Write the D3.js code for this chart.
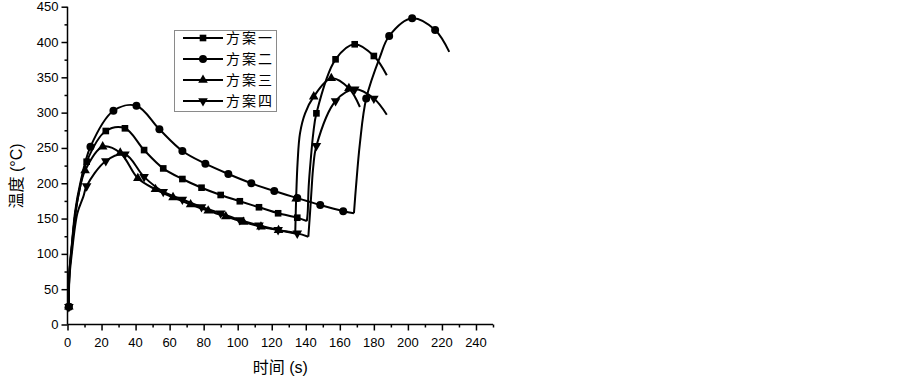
<!DOCTYPE html>
<html>
<head>
<meta charset="utf-8">
<script src="https://cdn.jsdelivr.net/npm/d3@7"></script>
<style>
  body { margin: 0; background: #fff; }
  text { font-family: "Liberation Sans", "Noto Sans CJK SC", sans-serif; fill: #000; }
</style>
</head>
<body>
<div id="chart"></div>
<script>
// series names shown in the legend
const seriesNames = ["方案一", "方案二", "方案三", "方案四"];

// time (s), temperature (°C), and 1 where a marker is drawn
const s1Time = [0.8, 1.1, 2.5, 4.5, 7, 11.25, 22.5, 33.75, 45, 56.25, 67.5, 78.75, 90, 101.25, 112.5, 123.75, 135, 140.6, 141.1, 141.7, 142.9, 144.4, 146.25, 157.5, 168.75, 180, 187.6];
const s1Temp = [25, 72, 110, 155, 190, 230.5, 274, 277.8, 247, 221, 206, 193.7, 183.4, 174.5, 166, 157.5, 151.2, 146.5, 157.5, 195, 233, 270.7, 299, 375.5, 396.8, 380.2, 353];
const s1Mark = [1, 0, 0, 0, 0, 1, 1, 1, 1, 1, 1, 1, 1, 1, 1, 1, 1, 0, 0, 0, 0, 0, 1, 1, 1, 1, 0];

const s2Time = [0.8, 1.1, 2.5, 4.5, 7.5, 13.5, 27, 40.5, 54, 67.5, 81, 94.5, 108, 121.5, 135, 148.5, 162, 168.3, 169.5, 171.8, 175.5, 183.6, 189, 202.5, 216, 224.3];
const s2Temp = [25, 74, 112, 160, 200, 251.8, 302.7, 309.8, 276.4, 245.7, 227.7, 213.1, 200, 189, 179, 169.2, 160.5, 157.5, 195, 256.6, 320, 379, 408.5, 433.6, 417, 386];
const s2Mark = [1, 0, 0, 0, 0, 1, 1, 1, 1, 1, 1, 1, 1, 1, 1, 1, 1, 0, 0, 0, 1, 0, 1, 1, 1, 0];

const s3Time = [0.8, 1.1, 2.5, 4.5, 7, 10.33, 20.67, 31, 41.33, 51.67, 62, 72.33, 82.67, 93, 103.33, 113.67, 124, 133.8, 134.33, 135.2, 136.6, 139.6, 144.67, 155, 165.33, 171.8];
const s3Temp = [25, 72, 108, 155, 190, 218, 251.8, 243, 207, 191.4, 180, 170, 161, 153, 145, 138.5, 133.5, 129, 178, 230, 270.7, 299, 322.6, 348.6, 334.5, 308];
const s3Mark = [1, 0, 0, 0, 0, 1, 1, 1, 1, 1, 1, 1, 1, 1, 1, 1, 1, 0, 1, 0, 0, 0, 1, 1, 1, 0];

const s4Time = [0.8, 1.1, 2.5, 5.8, 9.3, 11.25, 22.5, 33.75, 45, 56.25, 67.5, 78.75, 90, 101.25, 112.5, 123.75, 135, 141.5, 142.5, 143.5, 144.4, 146.25, 157.5, 168.75, 180, 187.6];
const s4Temp = [25, 65, 100, 157.5, 181, 196, 231.5, 241, 209, 188, 177, 166.5, 157.5, 148, 140.5, 134, 129, 124.3, 158, 195, 223.5, 253, 316.5, 333, 320, 297];
const s4Mark = [1, 0, 0, 0, 0, 1, 1, 1, 1, 1, 1, 1, 1, 1, 1, 1, 1, 0, 0, 0, 0, 1, 1, 1, 1, 0];

// axis ticks
const xTicks = [0, 20, 40, 60, 80, 100, 120, 140, 160, 180, 200, 220, 240];
const yTicks = [0, 50, 100, 150, 200, 250, 300, 350, 400, 450];

const width = 903, height = 378;
const svg = d3.select("#chart").append("svg")
  .attr("width", width)
  .attr("height", height);
svg.append("rect").attr("width", width).attr("height", height).attr("fill", "#fff");

const x = d3.scaleLinear().domain([0, 250]).range([67.5, 493]);
const y = d3.scaleLinear().domain([0, 450]).range([324.5, 6.7]);

const series = [
  { name: seriesNames[0], t: s1Time, v: s1Temp, m: s1Mark, sym: d3.symbolSquare, size: 44, rot: 0 },
  { name: seriesNames[1], t: s2Time, v: s2Temp, m: s2Mark, sym: d3.symbolCircle, size: 50, rot: 0 },
  { name: seriesNames[2], t: s3Time, v: s3Temp, m: s3Mark, sym: d3.symbolTriangle, size: 40, rot: 0 },
  { name: seriesNames[3], t: s4Time, v: s4Temp, m: s4Mark, sym: d3.symbolTriangle, size: 40, rot: 180 }
];

// x axis (minor every 10, major every 20)
const xAxis = svg.append("g").attr("transform", "translate(0," + y(0) + ")");
xAxis.call(d3.axisBottom(x).tickValues(d3.range(0, 251, 10)).tickSize(3).tickFormat(""));
xAxis.call(g => g.selectAll(".tick").filter(d => d % 20 === 0).select("line").attr("y2", 6));
xAxis.selectAll(".domain").attr("d", "M" + x(0) + ",0H" + x(250));
const xLab = svg.append("g").attr("transform", "translate(0," + y(0) + ")");
xLab.selectAll("text").data(xTicks).enter().append("text")
  .attr("x", d => x(d)).attr("y", 22)
  .attr("text-anchor", "middle")
  .style("font-size", "13px")
  .text(d => d);

// y axis (minor every 25, major every 50)
const yAxis = svg.append("g").attr("transform", "translate(" + x(0) + ",0)");
yAxis.call(d3.axisLeft(y).tickValues(d3.range(0, 451, 25)).tickSize(3).tickFormat(""));
yAxis.call(g => g.selectAll(".tick").filter(d => d % 50 === 0).select("line").attr("x2", -6));
yAxis.selectAll(".domain").attr("d", "M0," + y(0) + "V" + y(450));
const yLab = svg.append("g").attr("transform", "translate(" + x(0) + ",0)");
yLab.selectAll("text").data(yTicks).enter().append("text")
  .attr("x", -9).attr("y", d => y(d))
  .attr("dy", "0.35em")
  .attr("text-anchor", "end")
  .style("font-size", "13px")
  .text(d => d);

svg.selectAll(".domain, .tick line").attr("stroke", "#000").attr("stroke-width", 1.5);

// axis titles
svg.append("text")
  .attr("x", (x(0) + x(250)) / 2).attr("y", 373)
  .attr("text-anchor", "middle")
  .style("font-size", "16px")
  .text("时间 (s)");
svg.append("text")
  .attr("transform", "translate(22,176) rotate(-90)")
  .attr("text-anchor", "middle")
  .style("font-size", "16px")
  .text("温度 (°C)");

// curves: split at the cooling trough so the reheating jump keeps its corner
const line = d3.line()
  .x(d => x(d[0])).y(d => y(d[1]))
  .curve(d3.curveCatmullRom.alpha(0.5));

series.forEach(s => {
  const pts = s.t.map((t, i) => [t, s.v[i], s.m[i]]);
  let cut = pts.findIndex((p, i) => p[0] > 100 && i < pts.length - 1 && pts[i + 1][1] > p[1]);
  const parts = [pts.slice(0, cut + 1), pts.slice(cut)];
  parts.forEach(p => {
    svg.append("path")
      .attr("d", line(p))
      .attr("fill", "none")
      .attr("stroke", "#000")
      .attr("stroke-width", 2);
  });
  svg.selectAll(null)
    .data(pts.filter(p => p[2] === 1))
    .enter().append("path")
    .attr("d", d3.symbol().type(s.sym).size(s.size))
    .attr("transform", d => "translate(" + x(d[0]) + "," + y(d[1]) + ") rotate(" + s.rot + ")")
    .attr("fill", "#000");
});

// legend
const legend = svg.append("g");
legend.append("rect")
  .attr("x", 174.5).attr("y", 30.5)
  .attr("width", 102).attr("height", 81)
  .attr("fill", "#fff")
  .attr("stroke", "#8a8a8a")
  .attr("stroke-width", 1);
series.forEach((s, i) => {
  const ly = 38 + i * 21;
  legend.append("line")
    .attr("x1", 183).attr("x2", 223)
    .attr("y1", ly).attr("y2", ly)
    .attr("stroke", "#000").attr("stroke-width", 2);
  legend.append("path")
    .attr("d", d3.symbol().type(s.sym).size(s.size))
    .attr("transform", "translate(203," + ly + ") rotate(" + s.rot + ")")
    .attr("fill", "#000");
  legend.append("text")
    .attr("x", 226).attr("y", ly)
    .attr("dy", "0.36em")
    .style("font-size", "14px")
    .style("letter-spacing", "2px")
    .style("font-family", "'Noto Sans CJK SC', sans-serif")
    .text(s.name);
});
</script>
</body>
</html>
